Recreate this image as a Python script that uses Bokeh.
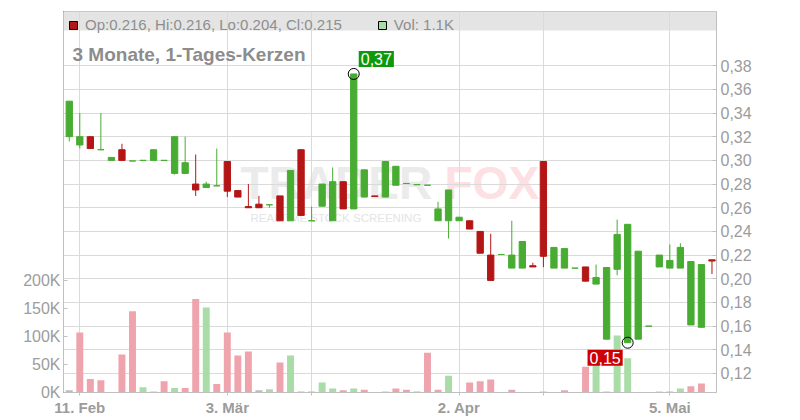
from bokeh.plotting import figure
from bokeh.models import (Range1d, LinearAxis, FixedTicker, CustomJSTickFormatter, Label,
                          BoxAnnotation, Legend, LegendItem, ColumnDataSource)
from bokeh.embed import file_html
from bokeh.resources import INLINE

# ---------------- data ----------------
dates = [
    "2025-02-10", "2025-02-11", "2025-02-12", "2025-02-13", "2025-02-14",
    "2025-02-17", "2025-02-18", "2025-02-19", "2025-02-20", "2025-02-21",
    "2025-02-24", "2025-02-25", "2025-02-26", "2025-02-27", "2025-02-28",
    "2025-03-03", "2025-03-04", "2025-03-05", "2025-03-06", "2025-03-07",
    "2025-03-10", "2025-03-11", "2025-03-12", "2025-03-13", "2025-03-14",
    "2025-03-17", "2025-03-18", "2025-03-19", "2025-03-20", "2025-03-21",
    "2025-03-24", "2025-03-25", "2025-03-26", "2025-03-27", "2025-03-28",
    "2025-03-31", "2025-04-01", "2025-04-02", "2025-04-03", "2025-04-04",
    "2025-04-07", "2025-04-08", "2025-04-09", "2025-04-10", "2025-04-11",
    "2025-04-14", "2025-04-15", "2025-04-16", "2025-04-17", "2025-04-22",
    "2025-04-23", "2025-04-24", "2025-04-25", "2025-04-28", "2025-04-29",
    "2025-04-30", "2025-05-02", "2025-05-05", "2025-05-06", "2025-05-07",
    "2025-05-08", "2025-05-09",
]
opens = [
    0.320, 0.313, 0.320, 0.309, 0.300, 0.309, 0.2995, 0.300, 0.300, 0.300,
    0.289, 0.289, 0.280, 0.277, 0.2785, 0.299, 0.2745, 0.261, 0.263, 0.2625,
    0.270, 0.249, 0.309, 0.249, 0.2613, 0.249, 0.282, 0.259, 0.269, 0.270,
    0.269, 0.279, 0.2805, 0.2795, 0.279, 0.249, 0.249, 0.249, 0.249, 0.240,
    0.220, 0.2205, 0.209, 0.209, 0.211, 0.299, 0.209, 0.209, 0.209, 0.210,
    0.1955, 0.149, 0.208, 0.146, 0.149, 0.160, 0.210, 0.209, 0.209, 0.161,
    0.159, 0.216,
]
highs = [
    0.350, 0.340, 0.320, 0.340, 0.3025, 0.314, 0.2995, 0.300, 0.309, 0.300,
    0.320, 0.320, 0.305, 0.282, 0.310, 0.299, 0.2745, 0.280, 0.270, 0.2625,
    0.270, 0.2915, 0.309, 0.261, 0.280, 0.294, 0.282, 0.373, 0.292, 0.270,
    0.299, 0.295, 0.2805, 0.2795, 0.279, 0.265, 0.275, 0.252, 0.249, 0.240,
    0.238, 0.2205, 0.249, 0.2315, 0.2135, 0.299, 0.2265, 0.2255, 0.209, 0.210,
    0.212, 0.2095, 0.250, 0.246, 0.2233, 0.160, 0.220, 0.229, 0.230, 0.2146,
    0.212, 0.216,
]
lows = [
    0.316, 0.310, 0.310, 0.309, 0.300, 0.300, 0.2995, 0.300, 0.300, 0.300,
    0.288, 0.289, 0.270, 0.277, 0.2785, 0.269, 0.269, 0.260, 0.260, 0.260,
    0.249, 0.249, 0.2535, 0.249, 0.2613, 0.249, 0.259, 0.259, 0.269, 0.2695,
    0.269, 0.279, 0.2805, 0.2795, 0.279, 0.249, 0.234, 0.249, 0.242, 0.2216,
    0.1986, 0.2205, 0.209, 0.209, 0.210, 0.2098, 0.209, 0.209, 0.209, 0.198,
    0.1955, 0.149, 0.203, 0.146, 0.149, 0.160, 0.210, 0.209, 0.209, 0.161,
    0.159, 0.204,
]
closes = [
    0.350, 0.320, 0.310, 0.309, 0.3025, 0.300, 0.2995, 0.300, 0.309, 0.300,
    0.320, 0.298, 0.275, 0.280, 0.2785, 0.274, 0.269, 0.260, 0.260, 0.2625,
    0.249, 0.2915, 0.2535, 0.249, 0.280, 0.282, 0.259, 0.373, 0.292, 0.2695,
    0.299, 0.295, 0.2805, 0.2795, 0.279, 0.259, 0.275, 0.252, 0.242, 0.2216,
    0.1986, 0.2205, 0.220, 0.2315, 0.210, 0.219, 0.2265, 0.2255, 0.209, 0.198,
    0.201, 0.2095, 0.2375, 0.246, 0.2233, 0.160, 0.220, 0.2155, 0.2265, 0.2146,
    0.212, 0.215,
]
volumes = [
    4000, 107000, 24000, 22000, 200, 68000, 145000, 9500, 2000, 20000,
    8000, 8000, 167000, 152000, 15000, 107000, 66000, 73000, 4000, 5600,
    53600, 66000, 2000, 2000, 18000, 7000, 4000, 7000, 5000, 200,
    2000, 7000, 5000, 2000, 71000, 5000, 30000, 200, 18000, 20000,
    23000, 200, 5000, 200, 200, 2000, 200, 4000, 200, 46000,
    60000, 2000, 102000, 61000, 200, 200, 2000, 2000, 7000, 11000,
    16000, 1100,
]
x_tick_dates = ["2025-02-11", "2025-03-03", "2025-03-13", "2025-04-02", "2025-04-14", "2025-05-05"]
x_tick_labels = ["11. Feb", "3. Mär", "13", "2. Apr", "14", "5. Mai"]
x_tick_bold = [True, True, False, True, False, True]
price_ticks = [0.12, 0.14, 0.16, 0.18, 0.20, 0.22, 0.24, 0.26, 0.28, 0.30, 0.32, 0.34, 0.36, 0.38]
volume_ticks = [0, 50000, 100000, 150000, 200000]
title_text = "3 Monate, 1-Tages-Kerzen"

# ---------------- styling ----------------
FONT = "Liberation Sans"
GREEN = "#48ac32"
RED = "#b41616"
VOL_GREEN = "#a9dca6"
VOL_RED = "#efa4ad"
VOL_GRAY = "#bdbdbd"
AXIS_C = "#c0c0c0"
GRID_C = "#dadada"
TXT_C = "#9c9c9c"

n = len(dates)
xs = list(range(n))
c_colors = [GREEN if closes[i] >= opens[i] else RED for i in range(n)]
v_colors = []
for i in range(n):
    if i == 0 or closes[i] == closes[i - 1]:
        v_colors.append(VOL_GRAY)
    elif closes[i] > closes[i - 1]:
        v_colors.append(VOL_GREEN)
    else:
        v_colors.append(VOL_RED)

src = ColumnDataSource(dict(
    x=xs, o=opens, h=highs, l=lows, c=closes, v=volumes,
    top=[max(a, b) for a, b in zip(opens, closes)],
    bot=[min(a, b) for a, b in zip(opens, closes)],
    cc=c_colors, vc=v_colors,
))

FRAME_H = 381
y_lo, y_hi = 0.10395, 0.42574
x_lo, x_hi = -0.547, 61.43
p = figure(width=800, height=420, output_backend="svg", toolbar_location=None,
           x_range=Range1d(x_lo, x_hi), y_range=Range1d(y_lo, y_hi),
           y_axis_location="right",
           min_border_left=63, min_border_right=84, min_border_top=11, min_border_bottom=28)
p.background_fill_color = "white"
p.border_fill_color = "white"
p.outline_line_color = AXIS_C

p.extra_y_ranges = {"vol": Range1d(0, 680357)}

# header band
band_bottom = y_hi - 19 * (y_hi - y_lo) / FRAME_H
p.add_layout(BoxAnnotation(bottom=band_bottom, fill_color="#e4e4e4", fill_alpha=1,
                           line_color=None, level="image"))

# watermark
p.add_layout(Label(x=177, y=184, x_units="screen", y_units="screen", text="TRADER",
                   text_font=FONT, text_font_style="bold", text_font_size="46px",
                   text_color="#ebebeb", level="image"))
p.add_layout(Label(x=381, y=184, x_units="screen", y_units="screen", text="FOX",
                   text_font=FONT, text_font_style="bold", text_font_size="46px",
                   text_color="#fde0e3", level="image"))
p.add_layout(Label(x=187, y=169, x_units="screen", y_units="screen",
                   text="REALTIME STOCK SCREENING",
                   text_font=FONT, text_font_size="11.5px",
                   text_color="#e4e4e4", level="image"))

# volume bars
p.vbar(x="x", width=0.66, top="v", bottom=0, y_range_name="vol", source=src,
       fill_color="vc", line_color=None)

# candles
p.segment(x0="x", y0="l", x1="x", y1="h", source=src, line_color="cc", line_width=1)
p.vbar(x="x", width=0.6, top="top", bottom="bot", source=src,
       fill_color="cc", line_color="cc", line_width=1)

# axes
p.xaxis.ticker = FixedTicker(ticks=[dates.index(d) for d in x_tick_dates])
p.xaxis.major_label_overrides = {dates.index(d): (lab if b else "")
                                 for d, lab, b in zip(x_tick_dates, x_tick_labels, x_tick_bold)}
p.xaxis.axis_line_color = AXIS_C
p.xaxis.major_tick_line_color = AXIS_C
p.xaxis.major_tick_in = 0
p.xaxis.major_tick_out = 3
p.xaxis.minor_tick_line_color = None
p.xaxis.major_label_standoff = 3
p.xaxis.major_label_text_font = FONT
p.xaxis.major_label_text_font_size = "15px"
p.xaxis.major_label_text_font_style = "bold"
p.xaxis.major_label_text_color = TXT_C

for d, lab, b in zip(x_tick_dates, x_tick_labels, x_tick_bold):
    if not b:
        p.add_layout(Label(x=dates.index(d), y=-6, y_units="screen", text=lab,
                           text_align="center", text_baseline="top",
                           text_font=FONT, text_font_size="15px", text_color=TXT_C))

pax = p.yaxis[0]
pax.ticker = FixedTicker(ticks=price_ticks)
pax.formatter = CustomJSTickFormatter(code="return tick.toFixed(2).replace('.', ',');")
pax.axis_line_color = AXIS_C
pax.major_tick_line_color = AXIS_C
pax.major_tick_in = 4
pax.major_tick_out = 0
pax.minor_tick_line_color = None
pax.major_label_standoff = 4
pax.major_label_text_font = FONT
pax.major_label_text_font_size = "16px"
pax.major_label_text_color = TXT_C

vax = LinearAxis(y_range_name="vol", ticker=FixedTicker(ticks=volume_ticks),
                 formatter=CustomJSTickFormatter(code="return (tick/1000).toFixed(0) + 'K';"))
vax.axis_line_color = AXIS_C
vax.major_tick_line_color = AXIS_C
vax.major_tick_in = 4
vax.major_tick_out = 0
vax.minor_tick_line_color = None
vax.major_label_standoff = 3
vax.major_label_text_font = FONT
vax.major_label_text_font_size = "16px"
vax.major_label_text_color = TXT_C
p.add_layout(vax, "left")

p.xgrid.grid_line_color = GRID_C
p.ygrid.grid_line_color = GRID_C
p.ygrid.ticker = FixedTicker(ticks=price_ticks)

# title
p.add_layout(Label(x=9, y=FRAME_H - 43.3, x_units="screen", y_units="screen",
                   text=title_text, text_font=FONT, text_font_style="bold",
                   text_font_size="19px", text_color="#8c8c8c", text_baseline="alphabetic"))

# legend (swatch renderers hold one row placed outside the visible x range)
leg_src = ColumnDataSource(dict(x=[x_lo - 10], top=[y_hi], bottom=[y_lo]))
r1 = p.vbar(x="x", top="top", bottom="bottom", width=0.5, source=leg_src,
            fill_color=RED, line_color="black", line_width=1)
r2 = p.vbar(x="x", top="top", bottom="bottom", width=0.5, source=leg_src,
            fill_color=VOL_GREEN, line_color="black", line_width=1)
ohlc_text = "Op:%.3f, Hi:%.3f, Lo:%.3f, Cl:%.3f" % (opens[-1], highs[-1], lows[-1], closes[-1])
vol_text = "Vol: %.1fK" % (volumes[-1] / 1000)
legend = Legend(items=[LegendItem(label=ohlc_text, renderers=[r1]),
                       LegendItem(label=vol_text, renderers=[r2])],
                orientation="horizontal", location="top_left", margin=0, padding=5,
                spacing=35, glyph_width=10, glyph_height=10, label_standoff=7,
                label_height=10, label_text_font=FONT, label_text_font_size="15px",
                label_text_color="#8e8e8e", background_fill_alpha=0, border_line_alpha=0)
p.add_layout(legend)

# max / min annotations
i_max = highs.index(max(highs))
i_min = lows.index(min(lows))
p.scatter(x=[i_max, i_min], y=[highs[i_max], lows[i_min]], size=11, marker="circle",
          fill_alpha=0, line_color="black", line_width=1)
p.add_layout(Label(x=i_max, y=highs[i_max], x_offset=5, y_offset=7,
                   text=("%.2f" % highs[i_max]).replace(".", ","),
                   text_align="left", text_baseline="bottom", text_font=FONT,
                   text_font_size="16px", text_color="white",
                   background_fill_color="#0c9a0c", padding=2))
p.add_layout(Label(x=i_min, y=lows[i_min], x_offset=-5, y_offset=-7,
                   text=("%.2f" % lows[i_min]).replace(".", ","),
                   text_align="right", text_baseline="top", text_font=FONT,
                   text_font_size="16px", text_color="white",
                   background_fill_color="#cc0000", padding=2))

open("out.html", "w").write(file_html(p, INLINE))
